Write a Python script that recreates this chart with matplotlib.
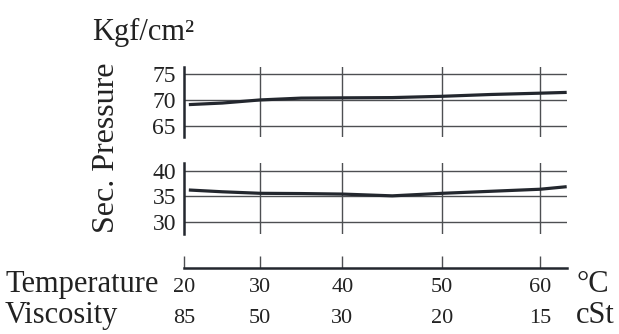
import numpy as np
import matplotlib
matplotlib.use("Agg")
import matplotlib.pyplot as plt
from matplotlib.transforms import blended_transform_factory

plt.rcParams["font.family"] = ["Liberation Serif", "DejaVu Serif"]

# temperature axis is not linear: tick temperatures and where they sit on the scale
temp_ticks = [20, 30, 40, 50, 60]
temp_scale = [0, 76, 158, 258, 356]
visc_ticks = [85, 50, 30, 20, 15]
x_max = 62.7

temps = [20.6, 25, 30, 35, 40, 45, 50, 55, 60, 62.7]
press_high = [69.2, 69.5, 70.1, 70.45, 70.5, 70.55, 70.8, 71.15, 71.4, 71.55]
press_low = [36.25, 35.9, 35.6, 35.55, 35.45, 35.1, 35.6, 36.0, 36.4, 36.9]

high_ticks = [65, 70, 75]
low_ticks = [30, 35, 40]

T = np.array(temp_ticks, float)
P = np.array(temp_scale, float)


def fwd(t):
    t = np.asarray(t, float)
    out = np.interp(t, T, P)
    out = np.where(t > T[-1], P[-1] + (t - T[-1]) * (P[-1] - P[-2]) / (T[-1] - T[-2]), out)
    out = np.where(t < T[0], P[0] + (t - T[0]) * (P[1] - P[0]) / (T[1] - T[0]), out)
    return out


def inv(p):
    p = np.asarray(p, float)
    out = np.interp(p, P, T)
    out = np.where(p > P[-1], T[-1] + (p - P[-1]) * (T[-1] - T[-2]) / (P[-1] - P[-2]), out)
    out = np.where(p < P[0], T[0] + (p - P[0]) * (T[1] - T[0]) / (P[1] - P[0]), out)
    return out


ink = "#23272e"
grid = "#4d4f52"
txt = "#222222"

W, H = 619, 334
fig = plt.figure(figsize=(W / 100, H / 100), dpi=100)
left, width = 0.2977, 0.6178
ax_hi = fig.add_axes([left, 0.5889, width, 0.2114])
ax_lo = fig.add_axes([left, 0.2994, width, 0.2117])
ax_t = fig.add_axes([left, 1 - 268 / H, width, 0.05])

for ax, vals, ticks, ylim in ((ax_hi, press_high, high_ticks, (62.9, 76.5)),
                              (ax_lo, press_low, low_ticks, (27.6, 41.5))):
    ax.set_xscale("function", functions=(fwd, inv))
    ax.set_xlim(20, x_max)
    ax.set_ylim(*ylim)
    ax.set_yticks(ticks)
    ax.set_xticks([])
    ax.xaxis.set_minor_locator(plt.NullLocator())
    for t in temp_ticks[1:]:
        ax.axvline(t, color=grid, lw=1.0, zorder=1)
    for v in ticks:
        ax.axhline(v, color=grid, lw=1.0, zorder=1)
    ax.plot(temps, vals, color=ink, lw=2.3, solid_capstyle="butt", zorder=3)
    for s in ("top", "right", "bottom"):
        ax.spines[s].set_visible(False)
    ax.spines["left"].set_linewidth(1.8)
    ax.spines["left"].set_color(ink)
    ax.tick_params(axis="y", length=0, pad=6, labelsize=17, labelcolor=txt)

# temperature / viscosity scale
ax_t.set_xscale("function", functions=(fwd, inv))
ax_t.set_xlim(20, x_max)
ax_t.set_ylim(0, 1)
ax_t.set_yticks([])
for s in ("top", "right", "left"):
    ax_t.spines[s].set_visible(False)
ax_t.spines["bottom"].set_linewidth(1.8)
ax_t.spines["bottom"].set_color(ink)
ax_t.set_xticks(temp_ticks)
ax_t.set_xticklabels([])
ax_t.xaxis.set_minor_locator(plt.NullLocator())
ax_t.tick_params(axis="x", direction="in", length=9, width=1.0, color=grid)

tr = blended_transform_factory(ax_t.transData, fig.transFigure)
for t, v in zip(temp_ticks, visc_ticks):
    ax_t.text(t, 1 - 292 / H, str(t), transform=tr, fontsize=16,
              ha="center", va="baseline", color=txt, clip_on=False)
    ax_t.text(t, 1 - 323 / H, str(v), transform=tr, fontsize=16,
              ha="center", va="baseline", color=txt, clip_on=False)

fig.text(5 / W, 1 - 292 / H, "Temperature", fontsize=22, va="baseline", ha="left", color=txt)
fig.text(5 / W, 1 - 323 / H, "Viscosity", fontsize=22, va="baseline", ha="left", color=txt)
fig.text(576 / W, 1 - 292 / H, "°C", fontsize=22, va="baseline", ha="left", color=txt)
fig.text(576 / W, 1 - 323 / H, "cSt", fontsize=22, va="baseline", ha="left", color=txt)
fig.text(92 / W, 1 - 40 / H, "Kgf/cm²", fontsize=22, va="baseline", ha="left", color=txt)
fig.text(106 / W, 1 - 148 / H, "Sec. Pressure", fontsize=23, rotation=90,
         va="center", ha="center", color=txt)

fig.savefig("out.png", dpi=100)
